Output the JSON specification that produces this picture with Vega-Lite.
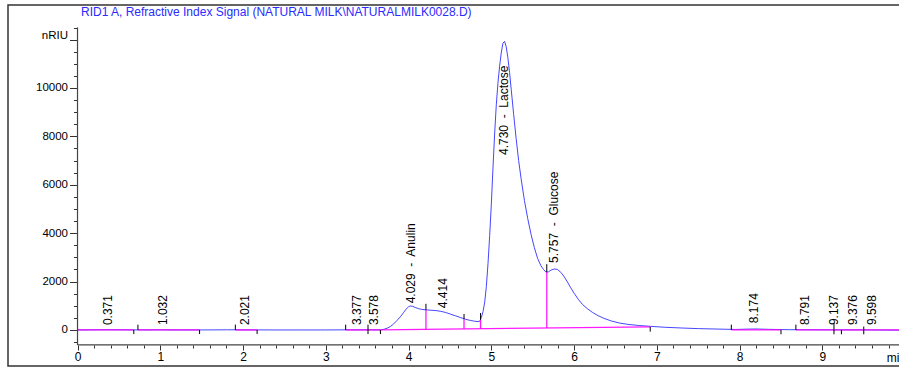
{
  "$schema": "https://vega.github.io/schema/vega-lite/v6.json",
  "width": 893,
  "height": 361,
  "autosize": "none",
  "padding": {"left": 8, "top": 5, "right": -2, "bottom": 3},
  "background": "white",
  "config": {"view": {"stroke": "#333333", "strokeWidth": 1.5}, "font": "Liberation Sans"},
  "title": {
    "text": "RID1 A, Refractive Index Signal (NATURAL MILK\\NATURALMILK0028.D)",
    "anchor": "start", "frame": "group", "orient": "top",
    "offset": 0, "dx": 73, "dy": 19, "baseline": "middle",
    "font": "Liberation Sans", "fontSize": 12, "fontWeight": "normal", "color": "#2b2bff"
  },
  "resolve": {"axis": {"x": "independent", "y": "independent"}},
  "datasets": {
    "curve": [
      {"t": 0, "s": 0}, {"t": 0.2, "s": 5}, {"t": 0.37, "s": 10}, {"t": 0.6, "s": 5}, {"t": 0.8, "s": 0},
      {"t": 1.0, "s": 5}, {"t": 1.2, "s": 0}, {"t": 1.5, "s": 0}, {"t": 1.8, "s": 5}, {"t": 2.0, "s": 5},
      {"t": 2.3, "s": 0}, {"t": 2.7, "s": 0}, {"t": 3.0, "s": 0}, {"t": 3.3, "s": 5}, {"t": 3.5, "s": 5},
      {"t": 3.66, "s": 5}, {"t": 3.70, "s": 25}, {"t": 3.74, "s": 70}, {"t": 3.78, "s": 140}, {"t": 3.82, "s": 250},
      {"t": 3.86, "s": 390}, {"t": 3.90, "s": 540}, {"t": 3.94, "s": 720}, {"t": 3.97, "s": 860}, {"t": 4.00, "s": 960},
      {"t": 4.02, "s": 990}, {"t": 4.05, "s": 975}, {"t": 4.08, "s": 930}, {"t": 4.12, "s": 880}, {"t": 4.16, "s": 850},
      {"t": 4.21, "s": 830}, {"t": 4.27, "s": 815}, {"t": 4.33, "s": 800}, {"t": 4.39, "s": 770}, {"t": 4.45, "s": 720},
      {"t": 4.51, "s": 650}, {"t": 4.57, "s": 580}, {"t": 4.63, "s": 510}, {"t": 4.69, "s": 440}, {"t": 4.75, "s": 390},
      {"t": 4.80, "s": 360}, {"t": 4.84, "s": 345}, {"t": 4.86, "s": 360}, {"t": 4.88, "s": 520}, {"t": 4.90, "s": 760},
      {"t": 4.92, "s": 1150}, {"t": 4.94, "s": 1800}, {"t": 4.96, "s": 2750}, {"t": 4.98, "s": 3900}, {"t": 5.00, "s": 5200},
      {"t": 5.02, "s": 6700}, {"t": 5.04, "s": 8100}, {"t": 5.06, "s": 9300}, {"t": 5.08, "s": 10200}, {"t": 5.10, "s": 10900},
      {"t": 5.12, "s": 11450}, {"t": 5.14, "s": 11850}, {"t": 5.16, "s": 11930}, {"t": 5.18, "s": 11700}, {"t": 5.20, "s": 11250},
      {"t": 5.22, "s": 10650}, {"t": 5.24, "s": 9950}, {"t": 5.27, "s": 8900}, {"t": 5.30, "s": 7900}, {"t": 5.33, "s": 7000},
      {"t": 5.36, "s": 6250}, {"t": 5.40, "s": 5350}, {"t": 5.44, "s": 4600}, {"t": 5.48, "s": 3950}, {"t": 5.52, "s": 3400},
      {"t": 5.56, "s": 2950}, {"t": 5.60, "s": 2650}, {"t": 5.63, "s": 2500}, {"t": 5.66, "s": 2390}, {"t": 5.69, "s": 2400},
      {"t": 5.72, "s": 2470}, {"t": 5.76, "s": 2520}, {"t": 5.80, "s": 2500}, {"t": 5.84, "s": 2380}, {"t": 5.88, "s": 2200},
      {"t": 5.92, "s": 1980}, {"t": 5.96, "s": 1740}, {"t": 6.00, "s": 1520}, {"t": 6.05, "s": 1270}, {"t": 6.10, "s": 1060},
      {"t": 6.16, "s": 880}, {"t": 6.22, "s": 730}, {"t": 6.29, "s": 590}, {"t": 6.36, "s": 480}, {"t": 6.45, "s": 370},
      {"t": 6.55, "s": 285}, {"t": 6.65, "s": 230}, {"t": 6.78, "s": 185}, {"t": 6.92, "s": 150}, {"t": 7.10, "s": 110},
      {"t": 7.30, "s": 80}, {"t": 7.50, "s": 55}, {"t": 7.75, "s": 35}, {"t": 7.95, "s": 20}, {"t": 8.10, "s": 35},
      {"t": 8.20, "s": 40}, {"t": 8.35, "s": 25}, {"t": 8.60, "s": 10}, {"t": 8.80, "s": 10}, {"t": 9.00, "s": 5},
      {"t": 9.20, "s": 5}, {"t": 9.40, "s": 5}, {"t": 9.60, "s": 0}, {"t": 9.95, "s": -10}
    ],
    "segs": [
      {"t1": 0, "s1": 0, "t2": 0.68, "s2": 0},
      {"t1": 0.73, "s1": 0, "t2": 1.475, "s2": 0},
      {"t1": 1.907, "s1": 0, "t2": 2.17, "s2": 0},
      {"t1": 3.24, "s1": 0, "t2": 3.51, "s2": 0},
      {"t1": 3.51, "s1": 0, "t2": 3.66, "s2": 0},
      {"t1": 3.66, "s1": 0, "t2": 6.92, "s2": 130},
      {"t1": 7.90, "s1": 0, "t2": 8.50, "s2": 0},
      {"t1": 8.68, "s1": 0, "t2": 9.14, "s2": 0},
      {"t1": 9.14, "s1": 0, "t2": 9.23, "s2": 0},
      {"t1": 9.23, "s1": 0, "t2": 9.50, "s2": 0},
      {"t1": 9.50, "s1": 0, "t2": 9.95, "s2": 0},
      {"t1": 4.21, "s1": 22, "t2": 4.21, "s2": 830},
      {"t1": 4.67, "s1": 40, "t2": 4.67, "s2": 445},
      {"t1": 4.87, "s1": 48, "t2": 4.87, "s2": 420},
      {"t1": 5.67, "s1": 80, "t2": 5.67, "s2": 2390}
    ],
    "ticks": [
      {"t": 0.0, "lo": 0, "hi": 200},
      {"t": 0.68, "lo": -170, "hi": 0},
      {"t": 0.73, "lo": 0, "hi": 220},
      {"t": 1.475, "lo": -170, "hi": 0},
      {"t": 1.907, "lo": 0, "hi": 220},
      {"t": 2.17, "lo": -170, "hi": 0},
      {"t": 3.24, "lo": 0, "hi": 220},
      {"t": 3.51, "lo": -170, "hi": 220},
      {"t": 3.66, "lo": -170, "hi": 0},
      {"t": 4.21, "lo": 830, "hi": 1080},
      {"t": 4.67, "lo": 445, "hi": 660},
      {"t": 4.87, "lo": 420, "hi": 700},
      {"t": 5.67, "lo": 2390, "hi": 2720},
      {"t": 6.92, "lo": -70, "hi": 125},
      {"t": 7.90, "lo": 0, "hi": 220},
      {"t": 8.50, "lo": -180, "hi": 0},
      {"t": 8.68, "lo": 0, "hi": 220},
      {"t": 9.14, "lo": -180, "hi": 290},
      {"t": 9.23, "lo": -180, "hi": 0},
      {"t": 9.50, "lo": -180, "hi": 140}
    ],
    "axislines": [
      {"t1": 0, "s1": -620, "t2": 9.95, "s2": -620},
      {"t1": 0, "s1": -620, "t2": 0, "s2": 12500}
    ],
    "labels": [
      {"t": 0.371, "s": 200, "text": "0.371"},
      {"t": 1.032, "s": 200, "text": "1.032"},
      {"t": 2.021, "s": 200, "text": "2.021"},
      {"t": 3.377, "s": 200, "text": "3.377"},
      {"t": 3.578, "s": 200, "text": "3.578"},
      {"t": 4.029, "s": 1100, "text": "4.029 \u00a0-\u00a0 Anulin"},
      {"t": 4.414, "s": 900, "text": "4.414"},
      {"t": 5.155, "s": 7230, "text": "4.730 \u00a0-\u00a0 Lactose"},
      {"t": 5.757, "s": 2770, "text": "5.757 \u00a0-\u00a0 Glucose"},
      {"t": 8.174, "s": 280, "text": "8.174"},
      {"t": 8.791, "s": 200, "text": "8.791"},
      {"t": 9.137, "s": 200, "text": "9.137"},
      {"t": 9.376, "s": 200, "text": "9.376"},
      {"t": 9.598, "s": 200, "text": "9.598"}
    ]
  },
  "layer": [
    {
      "data": {"name": "curve"},
      "mark": {"type": "line", "color": "#4646ff", "strokeWidth": 1},
      "encoding": {
        "x": {
          "field": "t", "type": "quantitative",
          "scale": {"domain": [-0.84, 9.95], "nice": false, "zero": false},
          "axis": {
            "orient": "bottom", "offset": -21, "domain": false, "grid": false,
            "values": [0,1,2,3,4,5,6,7,8,9],
            "format": "d",
            "tickSize": 5, "tickColor": "#333333", "tickWidth": 1,
            "labelFont": "Liberation Sans", "labelFontSize": 12, "labelColor": "#000000",
            "labelPadding": 1, "labelFlush": false, "labelOverlap": false,
            "title": "min", "titleX": 888, "titleY": 12, "titleAlign": "center", "titleBaseline": "middle",
            "titleFont": "Liberation Sans", "titleFontSize": 12, "titleFontWeight": "normal", "titleColor": "#000000"
          }
        },
        "y": {
          "field": "s", "type": "quantitative",
          "scale": {"domain": [-1490, 13430], "nice": false, "zero": false},
          "axis": {
            "orient": "left", "offset": -69.5, "domain": false, "grid": false,
            "values": [0,2000,4000,6000,8000,10000,12000],
            "format": "d",
            "labelExpr": "datum.value <= 10000 ? datum.label : ''",
            "tickSize": 8, "tickColor": "#333333", "tickWidth": 1,
            "labelFont": "Liberation Sans", "labelFontSize": 11.5, "labelColor": "#000000",
            "labelPadding": 2, "labelOverlap": false,
            "title": "nRIU", "titleAngle": 0, "titleX": -10, "titleY": 30, "titleAlign": "right", "titleBaseline": "middle",
            "titleFont": "Liberation Sans", "titleFontSize": 11.5, "titleFontWeight": "normal", "titleColor": "#000000"
          }
        }
      }
    },
    {
      "data": {"name": "segs"},
      "mark": {"type": "rule", "color": "#ff00ff", "strokeWidth": 1.3, "opacity": 0.9},
      "encoding": {
        "x": {"field": "t1", "type": "quantitative", "axis": null},
        "y": {"field": "s1", "type": "quantitative", "axis": null},
        "x2": {"field": "t2"},
        "y2": {"field": "s2"}
      }
    },
    {
      "data": {"name": "ticks"},
      "mark": {"type": "rule", "color": "#000000", "strokeWidth": 1},
      "encoding": {
        "x": {
          "field": "t", "type": "quantitative",
          "axis": {
            "orient": "bottom", "offset": -21, "domain": false, "grid": false, "labels": false, "title": null,
            "values": [0.2,0.4,0.6,0.8,1.2,1.4,1.6,1.8,2.2,2.4,2.6,2.8,3.2,3.4,3.6,3.8,4.2,4.4,4.6,4.8,5.2,5.4,5.6,5.8,6.2,6.4,6.6,6.8,7.2,7.4,7.6,7.8,8.2,8.4,8.6,8.8,9.2,9.4,9.6,9.8],
            "tickSize": 3, "tickColor": "#333333", "tickWidth": 1
          }
        },
        "y": {
          "field": "lo", "type": "quantitative",
          "axis": {
            "orient": "left", "offset": -69.5, "domain": false, "grid": false, "labels": false, "title": null,
            "values": [-500,500,1000,1500,2500,3000,3500,4500,5000,5500,6500,7000,7500,8500,9000,9500,10500,11000,11500,12500],
            "tickSize": 4, "tickColor": "#333333", "tickWidth": 1
          }
        },
        "y2": {"field": "hi"}
      }
    },
    {
      "data": {"name": "axislines"},
      "mark": {"type": "rule", "color": "#444444", "strokeWidth": 1.2},
      "encoding": {
        "x": {"field": "t1", "type": "quantitative", "axis": null},
        "y": {"field": "s1", "type": "quantitative", "axis": null},
        "x2": {"field": "t2"},
        "y2": {"field": "s2"}
      }
    },
    {
      "data": {"name": "labels"},
      "mark": {"type": "text", "angle": 270, "align": "left", "baseline": "middle", "font": "Liberation Sans", "fontSize": 12, "color": "#000000"},
      "encoding": {
        "x": {"field": "t", "type": "quantitative", "axis": null},
        "y": {"field": "s", "type": "quantitative", "axis": null},
        "text": {"field": "text"}
      }
    }
  ]
}
